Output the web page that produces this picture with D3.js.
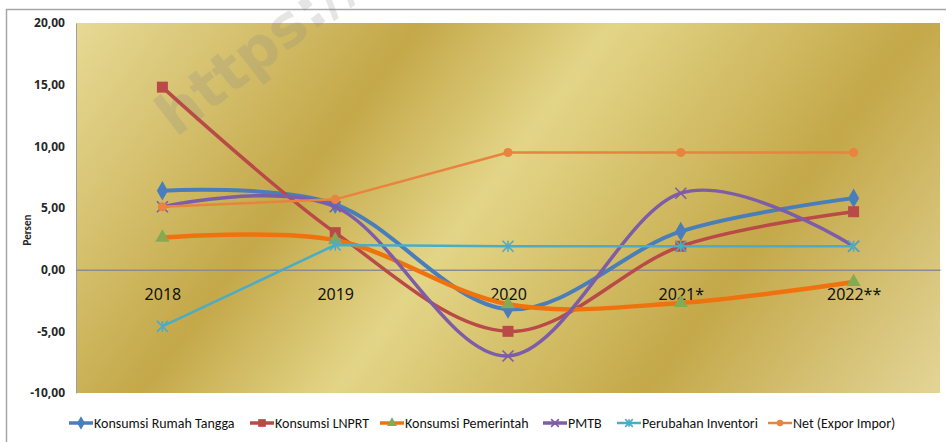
<!DOCTYPE html>
<html>
<head>
<meta charset="utf-8">
<script src="https://cdn.jsdelivr.net/npm/d3@7"></script>
<style>
  html, body { margin: 0; padding: 0; background: #fff; }
  svg { display: block; font-family: "Liberation Sans Narrow", "Carlito", "Noto Sans", sans-serif; }
</style>
</head>
<body>
<svg id="chart" width="946" height="442"></svg>
<script>
const years = ['2018', '2019', '2020', '2021*', '2022**'];
const rumahTangga = [6.4, 5.3, -3.2, 3.1, 5.8];
const lnprt = [14.8, 3.0, -5.0, 1.9, 4.7];
const pemerintah = [2.6, 2.4, -2.8, -2.7, -1.0];
const pmtb = [5.1, 5.1, -7.0, 6.2, 1.9];
const inventori = [-4.6, 2.0, 1.9, 1.9, 1.9];
const netEkspor = [5.1, 5.7, 9.5, 9.5, 9.5];
const yTicks = [20, 15, 10, 5, 0, -5, -10];

const series = [
  { name: 'Konsumsi Rumah Tangga', values: rumahTangga, color: '#4A7EBB', width: 4, smooth: true, marker: 'diamond', markerColor: '#4A7EBB' },
  { name: 'Konsumsi LNPRT', values: lnprt, color: '#B94A48', width: 3.5, smooth: true, marker: 'square', markerColor: '#B94A48' },
  { name: 'Konsumsi Pemerintah', values: pemerintah, color: '#F0720F', width: 4.5, smooth: true, marker: 'triangle', markerColor: '#86AA52' },
  { name: 'PMTB', values: pmtb, color: '#7D5CA8', width: 3.5, smooth: true, marker: 'x', markerColor: '#7D5CA8' },
  { name: 'Perubahan Inventori', values: inventori, color: '#4BACC6', width: 2.5, smooth: false, marker: 'star', markerColor: '#4BACC6' },
  { name: 'Net (Expor Impor)', values: netEkspor, color: '#E8843E', width: 2.5, smooth: false, marker: 'circle', markerColor: '#E8843E' }
];

const width = 946;
const height = 442;
const margin = { top: 23, right: 6, bottom: 49, left: 76 };

const locale = d3.formatLocale({ decimal: ',', thousands: '.', grouping: [3], currency: ['Rp', ''], minus: '-' });
const fmt = locale.format('.2f');

const svg = d3.select('#chart');

// outer frame
svg.append('path')
  .attr('d', `M6.5,${height} V9.5 H${width}`)
  .attr('fill', 'none')
  .attr('stroke', '#A6A6A6')
  .attr('stroke-width', 1.5);

const x = d3.scalePoint()
  .domain(years)
  .range([margin.left, width - margin.right])
  .padding(0.5);

const y = d3.scaleLinear()
  .domain([-10, 20])
  .range([height - margin.bottom, margin.top]);

// gold background gradient
const defs = svg.append('defs');
const grad = defs.append('linearGradient')
  .attr('id', 'gold')
  .attr('gradientUnits', 'userSpaceOnUse')
  .attr('x1', 76).attr('y1', 23)
  .attr('x2', 804).attr('y2', 573);
[[0, '#E7DA95'], [0.3, '#C4A849'], [0.47, '#E3D587'], [0.74, '#C4A849'], [1, '#E3D597']]
  .forEach(([o, c]) => grad.append('stop').attr('offset', o).attr('stop-color', c));

svg.append('rect')
  .attr('x', margin.left)
  .attr('y', margin.top)
  .attr('width', width - margin.left - margin.right)
  .attr('height', height - margin.top - margin.bottom)
  .attr('fill', 'url(#gold)');

// faint watermark
svg.append('text')
  .attr('transform', 'translate(176,138) rotate(-38)')
  .attr('font-family', 'DejaVu Sans, sans-serif')
  .attr('font-size', 58)
  .attr('font-weight', 'bold')
  .attr('fill', '#8a8a8a')
  .attr('fill-opacity', 0.22)
  .text('https://');

// y axis
const yAxis = svg.append('g')
  .attr('transform', `translate(${margin.left},0)`)
  .call(d3.axisLeft(y).tickValues(yTicks).tickFormat(fmt).tickSize(0).tickPadding(11));
yAxis.select('.domain').attr('stroke', '#A0A0A0');
yAxis.selectAll('text')
  .attr('font-size', 12)
  .attr('font-family', '"Liberation Sans Narrow", "Noto Sans", sans-serif')
  .attr('font-weight', 'bold')
  .attr('fill', '#262626');

svg.append('text')
  .attr('transform', `translate(31,${(margin.top + height - margin.bottom) / 2 + 22}) rotate(-90)`)
  .attr('text-anchor', 'middle')
  .attr('font-size', 11)
  .attr('font-weight', 'bold')
  .attr('fill', '#262626')
  .text('Persen');

// category axis along zero line
const xAxis = svg.append('g')
  .attr('transform', `translate(0,${y(0)})`)
  .call(d3.axisBottom(x).tickSize(0).tickSizeOuter(0).tickPadding(19));
xAxis.select('.domain').attr('stroke', '#8C8C8C').attr('stroke-width', 1.5);
xAxis.selectAll('text')
  .attr('font-size', 16)
  .attr('font-family', '"Liberation Sans Narrow", "Noto Sans", sans-serif')
  .attr('fill', '#111');

// markers
const markerPath = (type, s) => {
  if (type === 'diamond') return d3.symbol(d3.symbolDiamond, s * s * 0.55)();
  if (type === 'square') return d3.symbol(d3.symbolSquare, s * s)();
  if (type === 'triangle') return d3.symbol(d3.symbolTriangle, s * s * 0.45)();
  if (type === 'circle') return d3.symbol(d3.symbolCircle, s * s * 0.65)();
  const h = s / 2;
  if (type === 'x') return `M${-h},${-h}L${h},${h}M${-h},${h}L${h},${-h}`;
  return `M${-h},${-h}L${h},${h}M${-h},${h}L${h},${-h}M0,${-h}L0,${h}`;
};
const markerSize = { diamond: 14, square: 11, triangle: 14, circle: 10, x: 11, star: 11 };

const drawMarker = (g, s, px, py, scale) => {
  const size = markerSize[s.marker] * scale;
  const stroked = s.marker === 'x' || s.marker === 'star';
  g.append('path')
    .attr('transform', `translate(${px},${py})`)
    .attr('d', markerPath(s.marker, size))
    .attr('fill', stroked ? 'none' : s.markerColor)
    .attr('stroke', s.markerColor)
    .attr('stroke-width', stroked ? 1.6 : 0);
};

const plot = svg.append('g');
series.forEach(s => {
  const line = d3.line()
    .x((d, i) => x(years[i]))
    .y(d => y(d))
    .curve(s.smooth ? d3.curveCardinal.tension(0) : d3.curveLinear);
  const g = plot.append('g');
  g.append('path')
    .datum(s.values)
    .attr('fill', 'none')
    .attr('stroke', s.color)
    .attr('stroke-width', s.width)
    .attr('stroke-linejoin', 'round')
    .attr('d', line);
  s.values.forEach((v, i) => drawMarker(g, s, x(years[i]), y(v), 1));
});

// legend
const legendX = [69, 250, 380, 543, 617, 768];
const legendY = 423;
const legend = svg.append('g');
series.forEach((s, i) => {
  const g = legend.append('g').attr('transform', `translate(${legendX[i]},${legendY})`);
  g.append('line')
    .attr('x1', 0).attr('x2', 24)
    .attr('stroke', s.color)
    .attr('stroke-width', Math.min(s.width, 3.5));
  drawMarker(g, s, 12, 0, 0.7);
  g.append('text')
    .attr('x', 25)
    .attr('dy', '0.35em')
    .attr('font-size', 14)
    .attr('fill', '#111')
    .text(s.name);
});
</script>
</body>
</html>
